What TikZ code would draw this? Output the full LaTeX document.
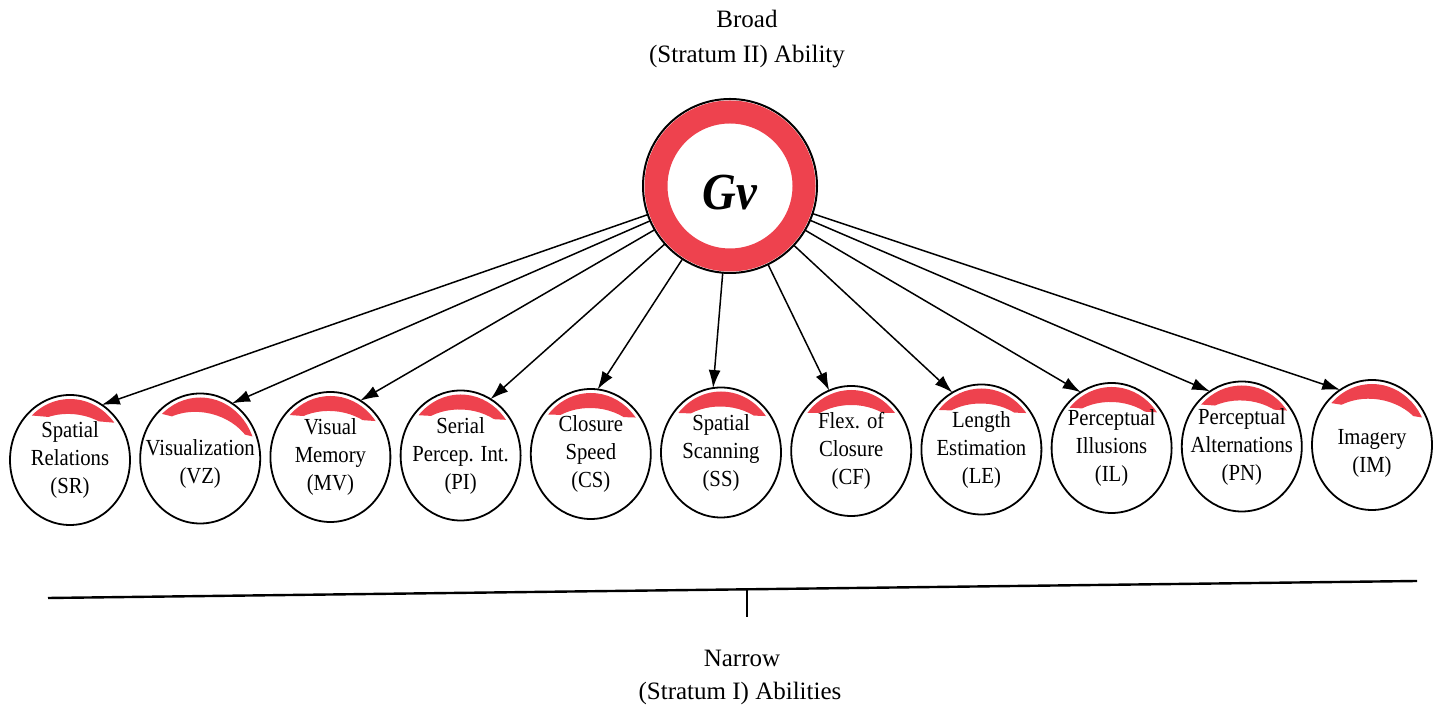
\documentclass[tikz,border=0pt]{standalone}
\usepackage{fontspec}
\setmainfont{Liberation Serif}
\newfontfamily\cfont[FakeStretch=0.9]{Liberation Serif}
\usetikzlibrary{shapes.geometric,arrows.meta}
\definecolor{ringred}{RGB}{238,66,78}
\begin{document}
\begin{tikzpicture}[x=1pt,y=1pt,
  small/.style={ellipse,draw,line width=1.8pt,minimum width=120pt,minimum height=130pt,inner sep=0pt,outer sep=0pt},
  lbl/.style={align=center,font=\cfont\fontsize{23}{28}\selectfont,inner sep=0pt},
  arr/.style={line width=1.5pt,-{Latex[length=18pt,width=12pt]}},
  band/.style={fill=ringred,even odd rule},
  title/.style={font=\fontsize{25}{30}\selectfont,anchor=base,inner sep=0pt}]
\useasboundingbox (0,0) rectangle (1437,708);

% top titles
\node[title] (broad1) at (747,680) {Broad};
\node[title] (broad2) at (747,645) {(Stratum II) Ability};

% Gv circle
\node[circle,draw,line width=2pt,minimum size=174pt,inner sep=0pt,outer sep=0pt] (gv) at (730,522) {};
\draw[ringred,line width=23pt] (gv.center) circle[radius=74pt];
\node[font=\cfont\bfseries\itshape\fontsize{52}{60}\selectfont,anchor=base,inner sep=0pt] (gvt) at (730,498) {Gv};

% narrow abilities
\foreach \n/\t/\a/\r/\c/\dy [count=\i from 0] in {
  sr/{Spatial\\Relations\\(SR)}/60/-5/41/0,
  vz/{Visualization\\(VZ)}/60/-14/34/-5,
  mv/{Visual\\Memory\\(MV)}/62/-4/39/0,
  pi/{Serial\\Percep. Int.\\(PI)}/62/-3/38/0,
  cs/{Closure\\Speed\\(CS)}/84/-2/38/0,
  ss/{Spatial\\Scanning\\(SS)}/97/-2/38/0,
  cf/{Flex. of\\Closure\\(CF)}/110/0/38/0,
  le/{Length\\Estimation\\(LE)}/117/-2/38/0,
  il/{Perceptual\\Illusions\\(IL)}/119/-3/38/0,
  pn/{Perceptual\\Alternations\\(PN)}/120/-4/39/0,
  im/{Imagery\\(IM)}/120/-9/35/-8}
{
  \node[small] (\n) at ({70+130.2*\i},{248+1.5*\i}) {};
  \begin{scope}
    \clip (\n.center) ellipse[x radius=56pt,y radius=61pt];
    \clip[shift={(\n.center)},rotate=\r] (-70,\c) rectangle (70,90);
    \path[band,shift={(\n.center)},rotate=\r] (-80,-80) rectangle (80,90)
       (0,0) ellipse[x radius=56pt,y radius=46pt];
  \end{scope}
  \node[lbl] (\n-t) at ([yshift=\dy pt]\n.center) {\t};
  \draw[arr] (gv) -- (\n.\a);
}

% bottom line
\coordinate (bl) at (48,110);
\coordinate (br) at (1417,127);
\coordinate (tk) at (747,118.7);
\coordinate (tkb) at (747,91);
\draw[line width=2.4pt] (bl) -- (br);
\draw[line width=2pt] (tk) -- (tkb);
\node[title] (narrow1) at (742,41) {Narrow};
\node[title] (narrow2) at (740,8) {(Stratum I) Abilities};
\end{tikzpicture}
\end{document}
